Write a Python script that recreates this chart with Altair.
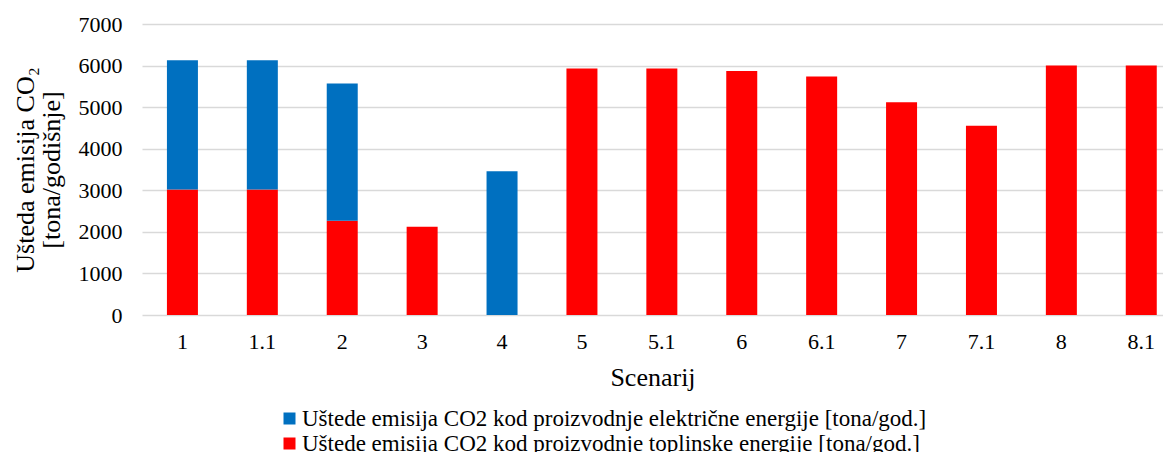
import altair as alt
import pandas as pd

scenarios = ["1", "1.1", "2", "3", "4", "5", "5.1", "6", "6.1", "7", "7.1", "8", "8.1"]
heat_savings = [3020, 3020, 2270, 2120, 0, 5930, 5930, 5870, 5740, 5120, 4550, 6000, 6000]
elec_savings = [3110, 3110, 3300, 0, 3460, 0, 0, 0, 0, 0, 0, 0, 0]

series_elec = "Uštede emisija CO2 kod proizvodnje električne energije [tona/god.]"
series_heat = "Uštede emisija CO2 kod proizvodnje toplinske energije [tona/god.]"

rows = []
for s, h, e in zip(scenarios, heat_savings, elec_savings):
    rows.append({"Scenarij": s, "serija": series_heat, "vrijednost": h, "ord": 0})
    rows.append({"Scenarij": s, "serija": series_elec, "vrijednost": e, "ord": 1})
df = pd.DataFrame(rows)

FONT = "Liberation Serif"

chart = alt.Chart(df).mark_bar().encode(
    x=alt.X("Scenarij:N", sort=scenarios,
            scale=alt.Scale(paddingInner=0.612, paddingOuter=0.195, align=0.8),
            axis=alt.Axis(title="Scenarij", labelAngle=0, labelFontSize=22,
                          labelFont=FONT, titleFont=FONT,
                          titleFontSize=26, titleFontWeight="normal",
                          labelPadding=16, titlePadding=12, ticks=False,
                          domain=False, labelColor="#000", titleColor="#000")),
    y=alt.Y("vrijednost:Q", stack="zero",
            scale=alt.Scale(domain=[0, 7000]),
            axis=alt.Axis(title=["Ušteda emisija CO₂", "[tona/godišnje]"],
                          values=[0, 1000, 2000, 3000, 4000, 5000, 6000, 7000],
                          format="d",
                          labelFont=FONT, titleFont=FONT,
                          labelFontSize=22, titleFontSize=26, titleFontWeight="normal",
                          titleLineHeight=26,
                          labelPadding=20, titlePadding=14, ticks=False, domain=False,
                          gridColor="#D9D9D9", gridWidth=1.5,
                          labelColor="#000", titleColor="#000")),
    color=alt.Color("serija:N",
                    scale=alt.Scale(domain=[series_elec, series_heat],
                                    range=["#0070C0", "#FF0000"]),
                    legend=alt.Legend(title=None, orient="none", legendX=136, legendY=383,
                                      direction="vertical", symbolType="square",
                                      symbolSize=144, labelFontSize=23, labelColor="#000",
                                      labelFont=FONT,
                                      rowPadding=1, symbolStrokeWidth=0,
                                      labelLimit=1000, labelOffset=1)),
    order=alt.Order("ord:Q"),
).properties(
    width=1021, height=291,
    autosize=alt.AutoSizeParams(type="none"),
    padding={"left": 134, "top": 16, "right": 0, "bottom": 145},
).configure(font=FONT).configure_view(stroke=None)

chart.save("out.html", embed_options={"renderer": "svg", "actions": False})
